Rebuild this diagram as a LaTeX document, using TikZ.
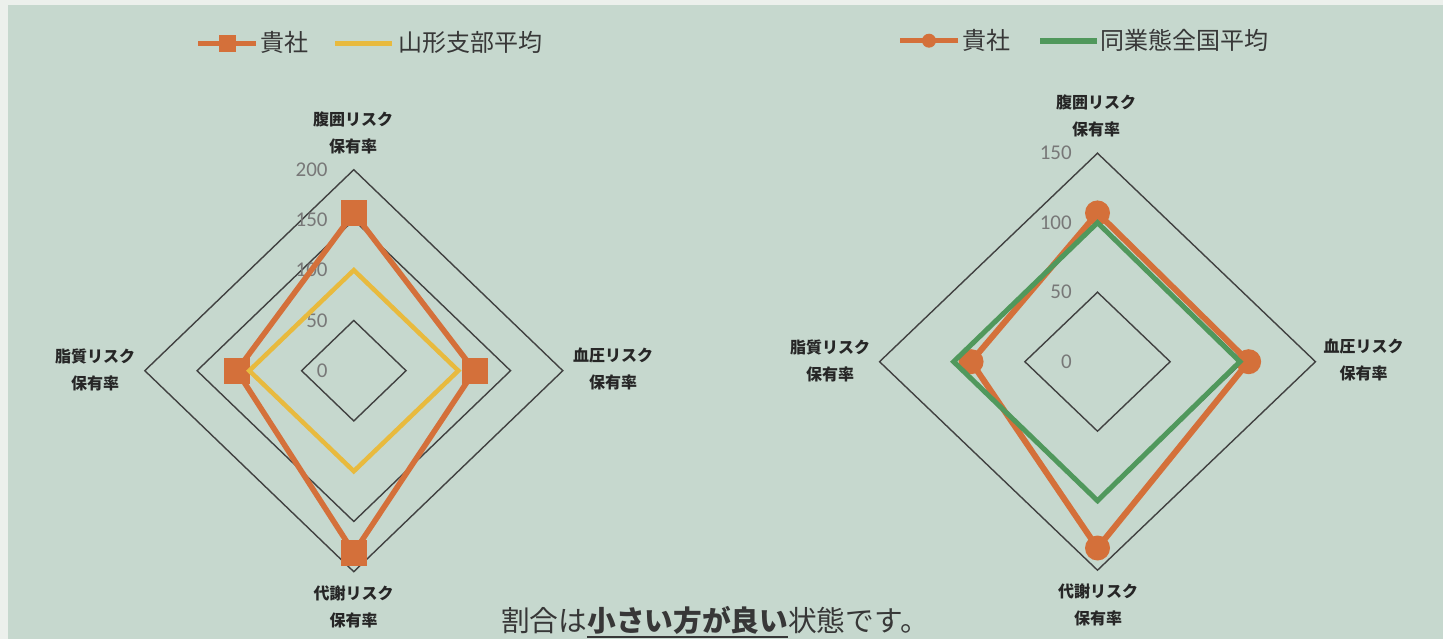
\documentclass[tikz,border=0pt]{standalone}
\usepackage{fontspec}
\setmainfont{Noto Sans CJK JP}
\newfontfamily\numfont{Carlito}
\definecolor{bgc}{RGB}{198,216,206}
\definecolor{edgec}{RGB}{236,240,236}
\definecolor{orng}{RGB}{212,112,58}
\definecolor{yel}{RGB}{232,186,62}
\definecolor{grn}{RGB}{80,152,92}
\definecolor{gridc}{RGB}{65,65,65}
\definecolor{tickc}{RGB}{120,120,120}
\definecolor{txtc}{RGB}{55,55,55}
\newcommand\myul[1]{\setbox0\hbox{#1}\rlap{\rule[-6.8pt]{\wd0}{1.6pt}}\box0}
\begin{document}
\begin{tikzpicture}[x=1pt,y=-1pt,
  gridline/.style={draw=gridc, line width=1.4pt},
  seriesO/.style={draw=orng, line width=5.5pt, line join=round},
  seriesY/.style={draw=yel, line width=4.5pt},
  seriesG/.style={draw=grn, line width=5pt},
  sqmark/.style={rectangle, fill=orng, minimum size=26pt, inner sep=0pt},
  cmark/.style={circle, fill=orng, minimum size=25pt, inner sep=0pt},
  legsq/.style={rectangle, fill=orng, minimum size=17pt, inner sep=0pt},
  legcirc/.style={circle, fill=orng, minimum size=14pt, inner sep=0pt},
  ticklbl/.style={anchor=east, text=tickc, font=\numfont\fontsize{21}{21}\selectfont, inner sep=0pt},
  axlbl/.style={align=center, font=\bfseries\fontsize{16}{27}\selectfont, text=black!85, inner sep=0pt},
  legtxt/.style={anchor=west, font=\fontsize{24}{24}\selectfont, text=txtc, inner sep=0pt}]
\useasboundingbox (0,0) rectangle (1443,639);
\fill[edgec] (0,0) rectangle (1443,639);
\fill[bgc] (8,5) rectangle (1443,639);

% ---------- legends ----------
\coordinate (la1) at (198,43.3);
\coordinate (la2) at (256,43.3);
\draw[orng, line width=5pt] (la1) -- (la2);
\node[legsq] (lsq) at (227,43.3) {};
\node[legtxt] (lt1) at (260,42) {貴社};
\coordinate (lb1) at (335,43.3);
\coordinate (lb2) at (392,43.3);
\draw[yel, line width=5pt] (lb1) -- (lb2);
\node[legtxt] (lt2) at (398,42) {山形支部平均};

\coordinate (ra1) at (900,40.7);
\coordinate (ra2) at (958,40.7);
\draw[orng, line width=5pt] (ra1) -- (ra2);
\node[legcirc] (rci) at (929,40.7) {};
\node[legtxt] (rt1) at (962,40) {貴社};
\coordinate (rb1) at (1040,40.7);
\coordinate (rb2) at (1097,40.7);
\draw[grn, line width=6pt] (rb1) -- (rb2);
\node[legtxt] (rt2) at (1100,40) {同業態全国平均};

% ---------- left chart ----------
\begin{scope}[shift={(353.8,370.7)}, xscale=1.045, yscale=1.005]
  \foreach \r in {50,100,150,200}
    \draw[gridline] (0,-\r) -- (\r,0) -- (0,\r) -- (-\r,0) -- cycle;
  \foreach \r in {0,50,100,150,200}
    \node[ticklbl] (Ltk\r) at (-24.9,-\r) {\r};
  \coordinate (LT) at (0,-157);
  \coordinate (LR) at (115.5,0);
  \coordinate (LB) at (0,181);
  \coordinate (LL) at (-112,0);
  \draw[seriesO] (LT) -- (LR) -- (LB) -- (LL) -- cycle;
  \foreach \p in {LT,LR,LB,LL}
    \node[sqmark] (m\p) at (\p) {};
  \coordinate (YT) at (0,-100);
  \coordinate (YR) at (100,0);
  \coordinate (YB) at (0,100);
  \coordinate (YL) at (-100,0);
  \draw[seriesY] (YT) -- (YR) -- (YB) -- (YL) -- cycle;
\end{scope}
\node[axlbl] (Lax1) at (353,133) {腹囲リスク\\保有率};
\node[axlbl] (Lax2) at (613,368.5) {血圧リスク\\保有率};
\node[axlbl] (Lax3) at (353.5,606.5) {代謝リスク\\保有率};
\node[axlbl] (Lax4) at (95,370) {脂質リスク\\保有率};

% ---------- right chart ----------
\begin{scope}[shift={(1097.5,361.7)}, xscale=1.453, yscale=1.39]
  \foreach \r in {50,100,150}
    \draw[gridline] (0,-\r) -- (\r,0) -- (0,\r) -- (-\r,0) -- cycle;
  \foreach \r in {0,50,100,150}
    \node[ticklbl] (Rtk\r) at (-17.6,-\r) {\r};
  \coordinate (RT) at (0,-107);
  \coordinate (RR) at (104,0);
  \coordinate (RB) at (0,134);
  \coordinate (RL) at (-87,0);
  \draw[seriesO, line width=6pt] (RT) -- (RR) -- (RB) -- (RL) -- cycle;
  \foreach \p in {RT,RR,RB,RL}
    \node[cmark] (m\p) at (\p) {};
  \coordinate (GT) at (0,-100);
  \coordinate (GR) at (98,0);
  \coordinate (GB) at (0,100);
  \coordinate (GL) at (-99,0);
  \draw[seriesG] (GT) -- (GR) -- (GB) -- (GL) -- cycle;
\end{scope}
\node[axlbl] (Rax1) at (1096,115.5) {腹囲リスク\\保有率};
\node[axlbl] (Rax2) at (1363.5,359.7) {血圧リスク\\保有率};
\node[axlbl] (Rax3) at (1098,605) {代謝リスク\\保有率};
\node[axlbl] (Rax4) at (830,360.5) {脂質リスク\\保有率};

% ---------- note ----------
\node[anchor=west, font=\fontsize{28.7}{29}\selectfont, text=txtc, inner sep=0pt] (note) at (501,622)
  {割合は\myul{\textbf{小さい方が良い}}状態です。};
\end{tikzpicture}
\end{document}
